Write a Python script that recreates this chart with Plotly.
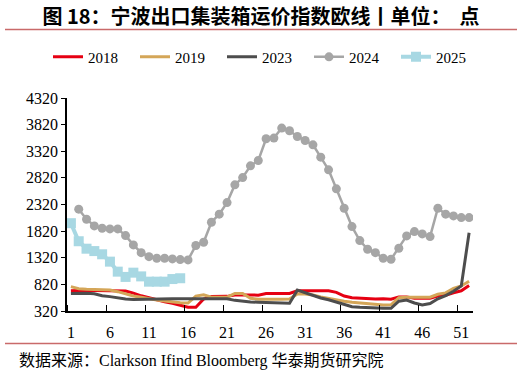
import plotly.graph_objects as go

weeks = list(range(1, 53))

y2018 = [700, 712, 712, 705, 702, 698, 700, 695, 655, 605, 570, 530, 495, 465, 425, 392,
         392, 545, 592, 595, 595, 622, 620, 612, 618, 650, 645, 645, 648, 700, 702, 702,
         700, 698, 670, 600, 570, 558, 548, 545, 552, 540, 585, 585, 560, 558, 558, 600,
         615, 660, 700, 800]

y2019 = [777, 740, 728, 728, 728, 715, 683, 640, 602, 578, 546, 527, 508, 489, 476, 470,
         600, 625, 580, 578, 580, 650, 650, 560, 540, 540, 535, 540, 545, 640, 640, 620,
         585, 555, 525, 505, 485, 470, 450, 435, 432, 435, 570, 578, 578, 575, 578, 635,
         660, 745, 790, 880]

y2023 = [650, 655, 655, 645, 605, 590, 565, 545, 535, 535, 538, 540, 545, 548, 550, 552,
         555, 558, 560, 560, 550, 520, 500, 490, 485, 478, 472, 468, 465, 712, 660, 620,
         565, 530, 490, 440, 400, 390, 380, 372, 370, 370, 505, 525, 470, 435, 460, 550,
         610, 690, 790, 1790]

y2024 = [None, 2232, 2044, 1918, 1875, 1862, 1862, 1736, 1561, 1416, 1341, 1311, 1311,
         1298, 1285, 1279, 1550, 1612, 1987, 2138, 2356, 2689, 2826, 3046, 3146, 3554,
         3567, 3755, 3704, 3597, 3522, 3441, 3209, 2971, 2614, 2250, 1905, 1642, 1480,
         1416, 1311, 1292, 1499, 1730, 1811, 1768, 1717, 2250, 2138, 2106, 2074, 2074]

y2025 = [1969, 1630, 1490, 1445, 1385, 1247, 1059, 960, 1040, 970, 871, 871, 871, 920, 935]

ytick_vals = [320, 820, 1320, 1820, 2320, 2820, 3320, 3820, 4320]
xtick_vals = [1, 6, 11, 16, 21, 26, 31, 36, 41, 46, 51]

serif = "Liberation Serif, Times New Roman, serif"
cjk = "Liberation Serif, Noto Sans CJK SC, sans-serif"

fig = go.Figure()
fig.add_trace(go.Scatter(x=weeks, y=y2018, name="2018", mode="lines",
                         line=dict(color="#E60012", width=3)))
fig.add_trace(go.Scatter(x=weeks, y=y2019, name="2019", mode="lines",
                         line=dict(color="#D4A658", width=3)))
fig.add_trace(go.Scatter(x=weeks, y=y2023, name="2023", mode="lines",
                         line=dict(color="#4D4D4D", width=3)))
fig.add_trace(go.Scatter(x=weeks, y=y2024, name="2024", mode="lines+markers",
                         line=dict(color="#A6A6A6", width=2.5),
                         marker=dict(symbol="circle", size=9, color="#A6A6A6")))
fig.add_trace(go.Scatter(x=weeks[:len(y2025)], y=y2025, name="2025", mode="lines+markers",
                         line=dict(color="#A8D8E3", width=4),
                         marker=dict(symbol="square", size=10, color="#A8D8E3")))

L, R, T, B = 67, 473, 98, 311.5
pw, ph = R - L, B - T

def px(x):
    return (x - L) / pw

def py(y):
    return (B - y) / ph

fig.update_layout(
    width=522, height=374,
    margin=dict(l=L, r=522 - R, t=T, b=374 - B, pad=0, autoexpand=False),
    paper_bgcolor="white", plot_bgcolor="white",
    showlegend=True,
    legend=dict(orientation="h", xref="paper", yref="paper",
                x=px(48), xanchor="left", y=py(57), yanchor="middle",
                font=dict(family=serif, size=15, color="#000000"),
                entrywidth=42, entrywidthmode="pixels", bgcolor="rgba(0,0,0,0)"),
    title=dict(text="<b>图 18：宁波出口集装箱运价指数欧线丨单位：  点</b>",
               xref="container", yref="container", x=0.5, xanchor="center",
               y=1 - 17 / 374, yanchor="middle",
               font=dict(family="Noto Sans CJK SC, sans-serif", size=20, color="#000000")),
    xaxis=dict(range=[0.5, 52.5], showgrid=False, zeroline=False,
               showline=True, linecolor="#000000", linewidth=1.5,
               tickmode="array", tickvals=xtick_vals,
               ticktext=[str(v) for v in xtick_vals], ticks="",
               ticklabelstandoff=6,
               minor=dict(tickmode="array", tickvals=[v - 0.5 for v in xtick_vals] + [0.5],
                          ticks="inside", ticklen=6, tickwidth=1.2, tickcolor="#000000",
                          showgrid=False),
               tickfont=dict(family=serif, size=16, color="#000000")),
    yaxis=dict(range=[320, 4320], showgrid=False, zeroline=False,
               showline=True, linecolor="#000000", linewidth=1.5,
               tickmode="array", tickvals=ytick_vals,
               ticks="outside", ticklen=4, tickwidth=1.2, tickcolor="#000000",
               tickfont=dict(family=serif, size=16, color="#000000")),
    shapes=[
        dict(type="line", xref="paper", yref="paper", x0=px(5), x1=px(517),
             y0=py(29.3), y1=py(29.3), line=dict(color="#C96A6A", width=1.5)),
        dict(type="line", xref="paper", yref="paper", x0=px(5), x1=px(517),
             y0=py(344), y1=py(344), line=dict(color="#C96A6A", width=1.5)),
    ],
    annotations=[
        dict(text="数据来源：Clarkson Ifind Bloomberg 华泰期货研究院",
             xref="paper", yref="paper", x=px(17), y=py(361.7),
             xanchor="left", yanchor="middle", showarrow=False,
             font=dict(family=cjk, size=16, color="#000000")),
    ],
)

fig.write_html("out.html", config={"displayModeBar": False},
               post_script="document.body.style.margin='0px';document.body.style.overflow='hidden';")
